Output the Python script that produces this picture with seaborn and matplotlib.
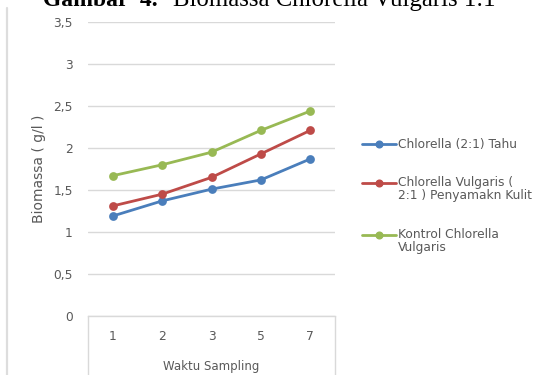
import numpy as np
import pandas as pd
import matplotlib
matplotlib.use("Agg")
import matplotlib.pyplot as plt
from matplotlib.lines import Line2D
from matplotlib.legend_handler import HandlerLine2D
from matplotlib.ticker import FuncFormatter
import seaborn as sns

# Sampling times (category axis) and biomass series (g/l)
waktu = ["1", "2", "3", "5", "7"]
series_names = [
    "Chlorella (2:1) Tahu",
    "Chlorella Vulgaris (\n2:1 ) Penyamakn Kulit",
    "Kontrol Chlorella\nVulgaris",
]
biomassa_tahu = [1.19, 1.37, 1.51, 1.62, 1.87]
biomassa_kulit = [1.31, 1.45, 1.65, 1.93, 2.21]
biomassa_kontrol = [1.67, 1.80, 1.95, 2.21, 2.44]
y_ticks = [0, 0.5, 1, 1.5, 2, 2.5, 3, 3.5]

colors = ["#4A7EBB", "#BE4B48", "#98B954"]

df = pd.DataFrame({
    "waktu": waktu * 3,
    "biomassa": biomassa_tahu + biomassa_kulit + biomassa_kontrol,
    "seri": [series_names[0]] * 5 + [series_names[1]] * 5 + [series_names[2]] * 5,
})

sns.set_theme(style="white")
plt.rcParams["font.family"] = ["DejaVu Sans"]

W, H = 536, 375
FS = 8.8
fig = plt.figure(figsize=(W / 100, H / 100), dpi=100)
ax = fig.add_axes([88 / W, 59 / H, 247 / W, 294 / H])

sns.pointplot(
    data=df, x="waktu", y="biomassa", hue="seri", order=waktu,
    hue_order=series_names, palette=colors, markers="o", linestyles="-",
    errorbar=None, markersize=4.8, linewidth=2.0, legend=False, ax=ax,
)

grid_col = "#D9D9D9"
text_col = "#595959"

ax.set_ylim(0, 3.5)
ax.set_xlim(-0.5, len(waktu) - 0.5)
ax.set_yticks(y_ticks)
ax.yaxis.set_major_formatter(FuncFormatter(lambda v, _: f"{v:g}".replace(".", ",")))
ax.yaxis.grid(True, color=grid_col, linewidth=1.0)
ax.set_axisbelow(True)
for side in ["top", "right", "left"]:
    ax.spines[side].set_visible(False)
ax.spines["bottom"].set_color(grid_col)
ax.spines["bottom"].set_linewidth(1.0)
ax.tick_params(axis="both", length=0, labelsize=FS, labelcolor=text_col)
ax.tick_params(axis="y", pad=11)
ax.tick_params(axis="x", pad=10)

ax.set_xlabel("Waktu Sampling", fontsize=FS - 0.3, color=text_col, labelpad=12)
ax.set_ylabel("Biomassa ( g/l )", fontsize=FS + 1.2, color=text_col, labelpad=5)

# category box edges running down below the axis line
for xa in (0, 1):
    ax.plot([xa, xa], [0, -70 / 294], transform=ax.transAxes, clip_on=False,
            color=grid_col, linewidth=1.0)

# chart frame edge on the left
fig.add_artist(Line2D([7 / W, 7 / W], [0, 1 - 8 / H], transform=fig.transFigure,
                      color="#DDDDDD", linewidth=1.6))

# caption above the chart
fig.text(43 / W, 1 - 6 / H, "Gambar  4.", fontsize=17, fontweight="bold",
         family=["Liberation Serif"], va="baseline", ha="left", color="black")
fig.text(173 / W, 1 - 6 / H, "Biomassa Chlorella Vulgaris 1:1", fontsize=17.8,
         family=["Liberation Serif"], va="baseline", ha="left", color="black")


class RaisedLine(HandlerLine2D):
    """Legend line handler aligning the sample with the first text line."""

    def __init__(self, shift=0.0, **kw):
        super().__init__(**kw)
        self.shift = shift

    def create_artists(self, legend, orig_handle, xdescent, ydescent, width,
                       height, fontsize, trans):
        arts = super().create_artists(legend, orig_handle, xdescent, ydescent,
                                      width, height, fontsize, trans)
        for a in arts:
            a.set_ydata(np.asarray(a.get_ydata(), dtype=float) + self.shift)
        return arts


handles = [Line2D([], [], color=c, marker="o", markersize=4.8, linewidth=2.0)
           for c in colors]
handler_map = {
    handles[0]: RaisedLine(0.0, numpoints=1),
    handles[1]: RaisedLine(4.8, numpoints=1),
    handles[2]: RaisedLine(4.8, numpoints=1),
}
leg = fig.legend(
    handles, series_names, handler_map=handler_map, loc="upper left",
    bbox_to_anchor=(362 / W, 1 - 138 / H), frameon=False, fontsize=FS,
    handlelength=2.8, handletextpad=0.15, labelspacing=2.06, borderpad=0,
    borderaxespad=0,
)
for t in leg.get_texts():
    t.set_color(text_col)
    t.set_linespacing(1.03)

fig.savefig("out.png", dpi=100, facecolor="white")
